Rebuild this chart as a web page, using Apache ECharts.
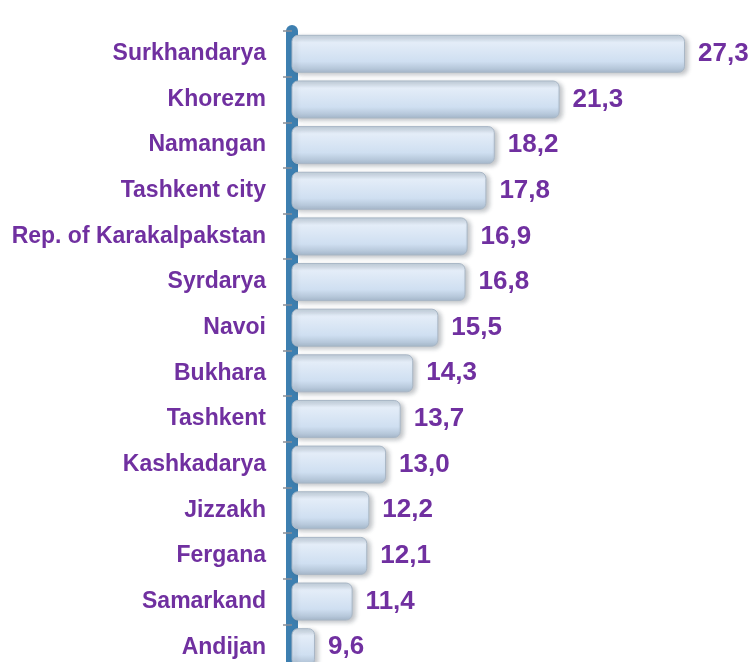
<!DOCTYPE html>
<html>
<head>
<meta charset="utf-8">
<script src="https://cdn.jsdelivr.net/npm/echarts@6/dist/echarts.min.js"></script>
<style>
  html, body { margin: 0; padding: 0; background: #fff; overflow: hidden; }
  #chart { width: 748px; height: 670px; }
</style>
</head>
<body>
<div id="chart"></div>
<script>
// Regions, top to bottom, with their values
const regions = [
  'Surkhandarya', 'Khorezm', 'Namangan', 'Tashkent city', 'Rep. of Karakalpakstan',
  'Syrdarya', 'Navoi', 'Bukhara', 'Tashkent', 'Kashkadarya',
  'Jizzakh', 'Fergana', 'Samarkand', 'Andijan'
];
const values = [27.3, 21.3, 18.2, 17.8, 16.9, 16.8, 15.5, 14.3, 13.7, 13.0, 12.2, 12.1, 11.4, 9.6];

const PURPLE = '#7030a0';
const chart = echarts.init(document.getElementById('chart'));

chart.setOption({
  animation: false,
  grid: { top: 31, bottom: 0, left: 292, right: 63 },
  xAxis: {
    type: 'value',
    min: 8.5,
    max: 27.3,
    show: false,
  },
  yAxis: {
    type: 'category',
    inverse: true,
    data: regions,
    axisLine: { lineStyle: { color: '#3d7fb0', width: 12 } },
    axisTick: { show: true, length: 9, lineStyle: { color: '#8a8f96', width: 1.5 } },
    axisLabel: {
      margin: 26,
      color: PURPLE,
      fontFamily: 'Liberation Sans, Arial, sans-serif',
      fontWeight: 'bold',
      fontSize: 23,
    },
  },
  series: [{
    type: 'bar',
    data: values,
    barWidth: 38,
    itemStyle: {
      borderRadius: 6,
      borderColor: '#a9b7c6',
      borderWidth: 1,
      color: new echarts.graphic.LinearGradient(0, 0, 0, 1, [
        { offset: 0, color: '#c4d0dc' },
        { offset: 0.2, color: '#e4edf8' },
        { offset: 0.7, color: '#cfdff1' },
        { offset: 1, color: '#a7b9cc' },
      ]),
      shadowColor: 'rgba(80,90,100,0.35)',
      shadowBlur: 4,
      shadowOffsetX: 3,
      shadowOffsetY: 2,
    },
    label: {
      show: true,
      position: 'right',
      distance: 13,
      color: PURPLE,
      fontFamily: 'Liberation Sans, Arial, sans-serif',
      fontWeight: 'bold',
      fontSize: 26,
      formatter: p => p.value.toFixed(1).replace('.', ','),
    },
  }],
});
</script>
</body>
</html>
